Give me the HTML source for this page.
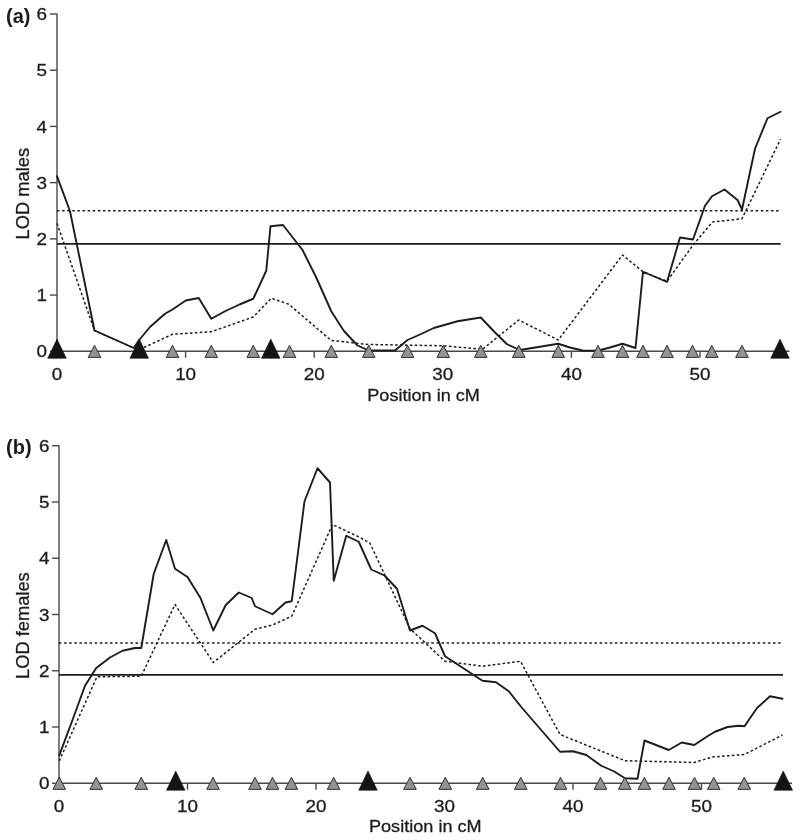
<!DOCTYPE html>
<html><head><meta charset="utf-8"><title>LOD plots</title>
<style>
html,body{margin:0;padding:0;background:#fff;}
svg{display:block;}
text{font-family:"Liberation Sans",Arial,Helvetica,sans-serif;fill:#1c1c1c;}
.t{font-size:17px;stroke:#1c1c1c;stroke-width:0.3px;}
.b{font-size:20px;font-weight:bold;}
.yl{font-size:18.3px;}
.xt{font-size:17.4px;}
</style></head><body>
<svg width="800" height="840" viewBox="0 0 800 840">
<rect width="800" height="840" fill="#fff"/>
<g stroke="#484848" stroke-width="1.4" fill="none">
<line x1="57" y1="13.4" x2="57" y2="351.3"/>
<line x1="57" y1="351.3" x2="789.5" y2="351.3"/>
<line x1="50" y1="351.3" x2="57" y2="351.3"/>
<line x1="50" y1="295.083" x2="57" y2="295.083"/>
<line x1="50" y1="238.867" x2="57" y2="238.867"/>
<line x1="50" y1="182.65" x2="57" y2="182.65"/>
<line x1="50" y1="126.433" x2="57" y2="126.433"/>
<line x1="50" y1="70.2167" x2="57" y2="70.2167"/>
<line x1="50" y1="14" x2="57" y2="14"/>
<line x1="57" y1="351.3" x2="57" y2="357.8"/>
<line x1="185.6" y1="351.3" x2="185.6" y2="357.8"/>
<line x1="314.2" y1="351.3" x2="314.2" y2="357.8"/>
<line x1="442.8" y1="351.3" x2="442.8" y2="357.8"/>
<line x1="571.4" y1="351.3" x2="571.4" y2="357.8"/>
<line x1="700" y1="351.3" x2="700" y2="357.8"/>
</g>
<line x1="57" y1="210.8" x2="780.7" y2="210.8" stroke="#1c1c1c" stroke-width="1.55" stroke-dasharray="2.5 2.6"/>
<line x1="57" y1="243.8" x2="780.7" y2="243.8" stroke="#1c1c1c" stroke-width="1.7"/>
<polyline points="57,223.3 94.5,330.5 133.75,348 145,347 172.5,334.25 211.25,331.75 253.25,317 271.25,298.25 288.75,304.25 331.25,340.5 368.75,344.5 442.5,345.75 482.5,349.25 518.75,320 558.25,340 622.5,255 643,271.75 667,281.25 693,245 712.5,222 742,218.75 780.5,139.25" fill="none" stroke="#1c1c1c" stroke-width="1.5" stroke-dasharray="2.6 2.3" stroke-linejoin="round"/>
<polyline points="57,176.2 70,211.25 94.5,330.5 133.75,348 138.75,340.5 150,327 165,313.75 172.5,309.5 185.75,300.5 198.75,298 211.25,318.75 225,311.25 240,304.25 253.25,298.75 266.25,270.75 270.5,226.25 283,225 302.5,250 316.25,277.5 331.25,311.25 343.75,330.75 357.5,345.5 368.75,350.5 395,350.5 407.5,340 420,334.5 433.75,328 457.5,321.25 480.75,317.5 495,332.5 507,344.25 520,350 558.25,343.75 570,347.5 582.5,350.5 597.5,350.75 610,347.5 622.5,343.75 635.5,348 643,271.75 667,282 680,237.5 693,239.5 705,205.75 712,196.25 724.5,189.5 737.5,200 742,209.5 755,148.75 767.5,118.25 780.5,111.75" fill="none" stroke="#1c1c1c" stroke-width="1.9" stroke-linejoin="round" stroke-linecap="round"/>
<g fill="#939393" stroke="#303030" stroke-width="1" stroke-linejoin="miter">
<polygon points="94.5,345.3 88.2,357.4 100.8,357.4"/>
<polygon points="172.5,345.3 166.2,357.4 178.8,357.4"/>
<polygon points="211.25,345.3 204.95,357.4 217.55,357.4"/>
<polygon points="253.25,345.3 246.95,357.4 259.55,357.4"/>
<polygon points="289.5,345.3 283.2,357.4 295.8,357.4"/>
<polygon points="331.25,345.3 324.95,357.4 337.55,357.4"/>
<polygon points="368.75,345.3 362.45,357.4 375.05,357.4"/>
<polygon points="407.5,345.3 401.2,357.4 413.8,357.4"/>
<polygon points="443.25,345.3 436.95,357.4 449.55,357.4"/>
<polygon points="480.75,345.3 474.45,357.4 487.05,357.4"/>
<polygon points="518.75,345.3 512.45,357.4 525.05,357.4"/>
<polygon points="558.25,345.3 551.95,357.4 564.55,357.4"/>
<polygon points="598,345.3 591.7,357.4 604.3,357.4"/>
<polygon points="622.5,345.3 616.2,357.4 628.8,357.4"/>
<polygon points="643,345.3 636.7,357.4 649.3,357.4"/>
<polygon points="667,345.3 660.7,357.4 673.3,357.4"/>
<polygon points="692.5,345.3 686.2,357.4 698.8,357.4"/>
<polygon points="711.75,345.3 705.45,357.4 718.05,357.4"/>
<polygon points="742,345.3 735.7,357.4 748.3,357.4"/>
</g>
<g fill="#141414" stroke="#141414" stroke-width="0.6">
<polygon points="57,339.1 47.7,358.3 66.3,358.3"/>
<polygon points="139.25,339.1 129.95,358.3 148.55,358.3"/>
<polygon points="270.75,339.1 261.45,358.3 280.05,358.3"/>
<polygon points="780,339.1 770.7,358.3 789.3,358.3"/>
</g>
<text class="t" text-anchor="end" transform="translate(46.9,357.4) scale(1.11,1)">0</text>
<text class="t" text-anchor="end" transform="translate(46.9,301.183) scale(1.11,1)">1</text>
<text class="t" text-anchor="end" transform="translate(46.9,244.967) scale(1.11,1)">2</text>
<text class="t" text-anchor="end" transform="translate(46.9,188.75) scale(1.11,1)">3</text>
<text class="t" text-anchor="end" transform="translate(46.9,132.533) scale(1.11,1)">4</text>
<text class="t" text-anchor="end" transform="translate(46.9,76.3167) scale(1.11,1)">5</text>
<text class="t" text-anchor="end" transform="translate(46.9,20.1) scale(1.11,1)">6</text>
<text class="t" text-anchor="middle" transform="translate(57,380.3) scale(1.11,1)">0</text>
<text class="t" text-anchor="middle" transform="translate(185.6,380.3) scale(1.11,1)">10</text>
<text class="t" text-anchor="middle" transform="translate(314.2,380.3) scale(1.11,1)">20</text>
<text class="t" text-anchor="middle" transform="translate(442.8,380.3) scale(1.11,1)">30</text>
<text class="t" text-anchor="middle" transform="translate(571.4,380.3) scale(1.11,1)">40</text>
<text class="t" text-anchor="middle" transform="translate(700,380.3) scale(1.11,1)">50</text>
<text class="t xt" text-anchor="middle" transform="translate(423.6,400.7) scale(1.04,1)">Position in cM</text>
<text class="t yl" text-anchor="middle" transform="translate(28.6,193.7) rotate(-90) scale(1,1.04)">LOD males</text>
<text class="b" text-anchor="start" transform="translate(6,22.6) scale(1,1)">(a)</text>
<g stroke="#484848" stroke-width="1.4" fill="none">
<line x1="59.0" y1="445.15" x2="59.0" y2="783.25"/>
<line x1="59.0" y1="783.25" x2="792" y2="783.25"/>
<line x1="52.0" y1="783.25" x2="59.0" y2="783.25"/>
<line x1="52.0" y1="727" x2="59.0" y2="727"/>
<line x1="52.0" y1="670.75" x2="59.0" y2="670.75"/>
<line x1="52.0" y1="614.5" x2="59.0" y2="614.5"/>
<line x1="52.0" y1="558.25" x2="59.0" y2="558.25"/>
<line x1="52.0" y1="502" x2="59.0" y2="502"/>
<line x1="52.0" y1="445.75" x2="59.0" y2="445.75"/>
<line x1="59" y1="783.25" x2="59" y2="789.75"/>
<line x1="187.5" y1="783.25" x2="187.5" y2="789.75"/>
<line x1="316" y1="783.25" x2="316" y2="789.75"/>
<line x1="444.5" y1="783.25" x2="444.5" y2="789.75"/>
<line x1="573" y1="783.25" x2="573" y2="789.75"/>
<line x1="701.5" y1="783.25" x2="701.5" y2="789.75"/>
</g>
<line x1="59.0" y1="643" x2="783" y2="643" stroke="#1c1c1c" stroke-width="1.55" stroke-dasharray="2.5 2.6"/>
<line x1="59.0" y1="674.9" x2="783" y2="674.9" stroke="#1c1c1c" stroke-width="1.7"/>
<polyline points="59.25,761 97,676.75 141.25,676.25 175,604.5 213.25,662.5 255,629.25 272.5,625 291.75,616.25 332.5,524.5 360,537.5 370,543.25 410,628.75 445,661.25 482.5,666.25 520.5,661.25 560,734.5 625,760.75 694.25,762.5 712.5,757 744.5,754.5 782.5,735" fill="none" stroke="#1c1c1c" stroke-width="1.5" stroke-dasharray="2.6 2.3" stroke-linejoin="round"/>
<polyline points="59.25,755.3 72.5,720 85,685.75 96.25,668 110,657.5 122.5,650.75 135,648 141.25,648 153.75,573.75 166.25,540 175,568.75 187.5,577 200.5,598 213.25,630.5 225.75,605 238.75,592.5 251.75,598 255,606.25 272.5,614.25 285.5,602.5 291.75,601.25 304.5,501.25 317.5,468.25 330,482.5 333.75,580.75 346.25,535.75 358.75,541.75 371.25,569.5 384.5,575.5 397,588.75 410,630.5 422.5,625.75 435,633.25 445,656.25 482.5,680.75 496,682.3 508.75,691.25 521.25,707 560,751.75 573,751.25 586.25,755 601.25,765.75 613.75,771.25 625,778.25 637.5,778.75 644.5,740.5 668.75,750 681.75,742.5 694.25,745 707.5,736.25 715,731.75 727.5,727 738.75,725.75 744.5,726.25 757,708 770,696.25 782.5,698.75" fill="none" stroke="#1c1c1c" stroke-width="1.9" stroke-linejoin="round" stroke-linecap="round"/>
<g fill="#939393" stroke="#303030" stroke-width="1" stroke-linejoin="miter">
<polygon points="59.25,777.25 52.95,789.35 65.55,789.35"/>
<polygon points="96.25,777.25 89.95,789.35 102.55,789.35"/>
<polygon points="141.25,777.25 134.95,789.35 147.55,789.35"/>
<polygon points="213,777.25 206.7,789.35 219.3,789.35"/>
<polygon points="255,777.25 248.7,789.35 261.3,789.35"/>
<polygon points="272.5,777.25 266.2,789.35 278.8,789.35"/>
<polygon points="291.4,777.25 285.1,789.35 297.7,789.35"/>
<polygon points="333.6,777.25 327.3,789.35 339.9,789.35"/>
<polygon points="410,777.25 403.7,789.35 416.3,789.35"/>
<polygon points="445.3,777.25 439,789.35 451.6,789.35"/>
<polygon points="482.7,777.25 476.4,789.35 489,789.35"/>
<polygon points="520.75,777.25 514.45,789.35 527.05,789.35"/>
<polygon points="560.5,777.25 554.2,789.35 566.8,789.35"/>
<polygon points="600.5,777.25 594.2,789.35 606.8,789.35"/>
<polygon points="624.8,777.25 618.5,789.35 631.1,789.35"/>
<polygon points="644.4,777.25 638.1,789.35 650.7,789.35"/>
<polygon points="669,777.25 662.7,789.35 675.3,789.35"/>
<polygon points="694.5,777.25 688.2,789.35 700.8,789.35"/>
<polygon points="713.75,777.25 707.45,789.35 720.05,789.35"/>
<polygon points="744.25,777.25 737.95,789.35 750.55,789.35"/>
</g>
<g fill="#141414" stroke="#141414" stroke-width="0.6">
<polygon points="175.75,771.05 166.45,790.25 185.05,790.25"/>
<polygon points="368,771.05 358.7,790.25 377.3,790.25"/>
<polygon points="783.25,771.05 773.95,790.25 792.55,790.25"/>
</g>
<text class="t" text-anchor="end" transform="translate(49.6,789.35) scale(1.11,1)">0</text>
<text class="t" text-anchor="end" transform="translate(49.6,733.1) scale(1.11,1)">1</text>
<text class="t" text-anchor="end" transform="translate(49.6,676.85) scale(1.11,1)">2</text>
<text class="t" text-anchor="end" transform="translate(49.6,620.6) scale(1.11,1)">3</text>
<text class="t" text-anchor="end" transform="translate(49.6,564.35) scale(1.11,1)">4</text>
<text class="t" text-anchor="end" transform="translate(49.6,508.1) scale(1.11,1)">5</text>
<text class="t" text-anchor="end" transform="translate(49.6,451.85) scale(1.11,1)">6</text>
<text class="t" text-anchor="middle" transform="translate(59,811.8) scale(1.11,1)">0</text>
<text class="t" text-anchor="middle" transform="translate(187.5,811.8) scale(1.11,1)">10</text>
<text class="t" text-anchor="middle" transform="translate(316,811.8) scale(1.11,1)">20</text>
<text class="t" text-anchor="middle" transform="translate(444.5,811.8) scale(1.11,1)">30</text>
<text class="t" text-anchor="middle" transform="translate(573,811.8) scale(1.11,1)">40</text>
<text class="t" text-anchor="middle" transform="translate(701.5,811.8) scale(1.11,1)">50</text>
<text class="t xt" text-anchor="middle" transform="translate(425.3,832.1) scale(1.04,1)">Position in cM</text>
<text class="t yl" text-anchor="middle" transform="translate(28.6,625.6) rotate(-90) scale(1,1.04)">LOD females</text>
<text class="b" text-anchor="start" transform="translate(6,453.8) scale(1,1)">(b)</text>
</svg>
</body></html>
